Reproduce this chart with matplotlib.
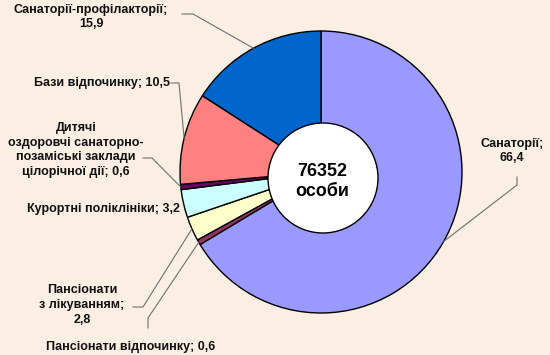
import numpy as np
import matplotlib
matplotlib.use("Agg")
import matplotlib.pyplot as plt
from matplotlib.patches import Circle

# data (shares, %)
categories = ["Санаторії", "Пансіонати відпочинку", "Пансіонати з лікуванням",
              "Курортні поліклініки", "Дитячі оздоровчі санаторно-позаміські заклади цілорічної дії",
              "Бази відпочинку", "Санаторії-профілакторії"]
values = [66.4, 0.6, 2.8, 3.2, 0.6, 10.5, 15.9]
colors = ["#9999FF", "#993366", "#FFFFCC", "#CCFFFF", "#660066", "#FF8080", "#0066CC"]
label_texts = ["Санаторії;\n66,4", "Пансіонати відпочинку; 0,6", "Пансіонати\nз лікуванням;\n2,8",
               "Курортні поліклініки; 3,2", "Дитячі\nоздоровчі санаторно-\nпозаміські заклади\nцілорічної дії; 0,6",
               "Бази відпочинку; 10,5", "Санаторії-профілакторії;\n15,9"]
total_persons = "76352"

W, H = 550, 355
bg = "#FBEFE4"
plt.rcParams['font.family'] = ['Liberation Sans', 'DejaVu Sans']

fig = plt.figure(figsize=(W / 100, H / 100), dpi=100, facecolor=bg)
ax = fig.add_axes([0, 0, 1, 1])
ax.set_facecolor(bg)

cx, cy, r = 321, H - 172, 141
wedges, _ = ax.pie(values, colors=colors, startangle=90, counterclock=False,
                   center=(cx, cy), radius=r,
                   wedgeprops=dict(edgecolor="black", linewidth=1.0))
ax.set_xlim(0, W)
ax.set_ylim(0, H)
ax.set_aspect("auto")
ax.axis("off")

# white centre
ax.add_patch(Circle((323, H - 178), 55, facecolor="white", edgecolor="black", lw=1.0, zorder=5))
ax.text(322, H - 172, total_persons, ha="center", va="center", fontsize=13, fontweight="bold", zorder=6)
ax.text(322, H - 192, "особи", ha="center", va="center", fontsize=13, fontweight="bold", zorder=6)

# label layout: (x, y in px from top, ha, leader elbow points in px)
layout = [
    (512, 151, "center", [(517, 177), (517, 185)]),
    (131, 347, "center", [(148, 328), (148, 318)]),
    (82, 305, "center", [(133, 307), (143, 307)]),
    (180, 209, "right", None),
    (76, 150, "center", [(143, 158), (152, 158)]),
    (170, 83, "right", [(171, 83), (179, 83)]),
    (91, 17, "center", [(182, 14), (193, 14)]),
]

for w, txt, (lx, ly, ha, pts) in zip(wedges, label_texts, layout):
    ax.text(lx, H - ly, txt, ha=ha, va="center", fontsize=9, fontweight="bold",
            color="#111111", multialignment="center", linespacing=1.3)
    if pts:
        mid = np.deg2rad((w.theta1 + w.theta2) / 2)
        ex, ey = cx + r * np.cos(mid), cy + r * np.sin(mid)
        xs = [p[0] for p in pts] + [ex]
        ys = [H - p[1] for p in pts] + [ey]
        ax.plot(xs, ys, color="#707070", lw=0.8)

fig.savefig("out.png", dpi=100, facecolor=bg)
